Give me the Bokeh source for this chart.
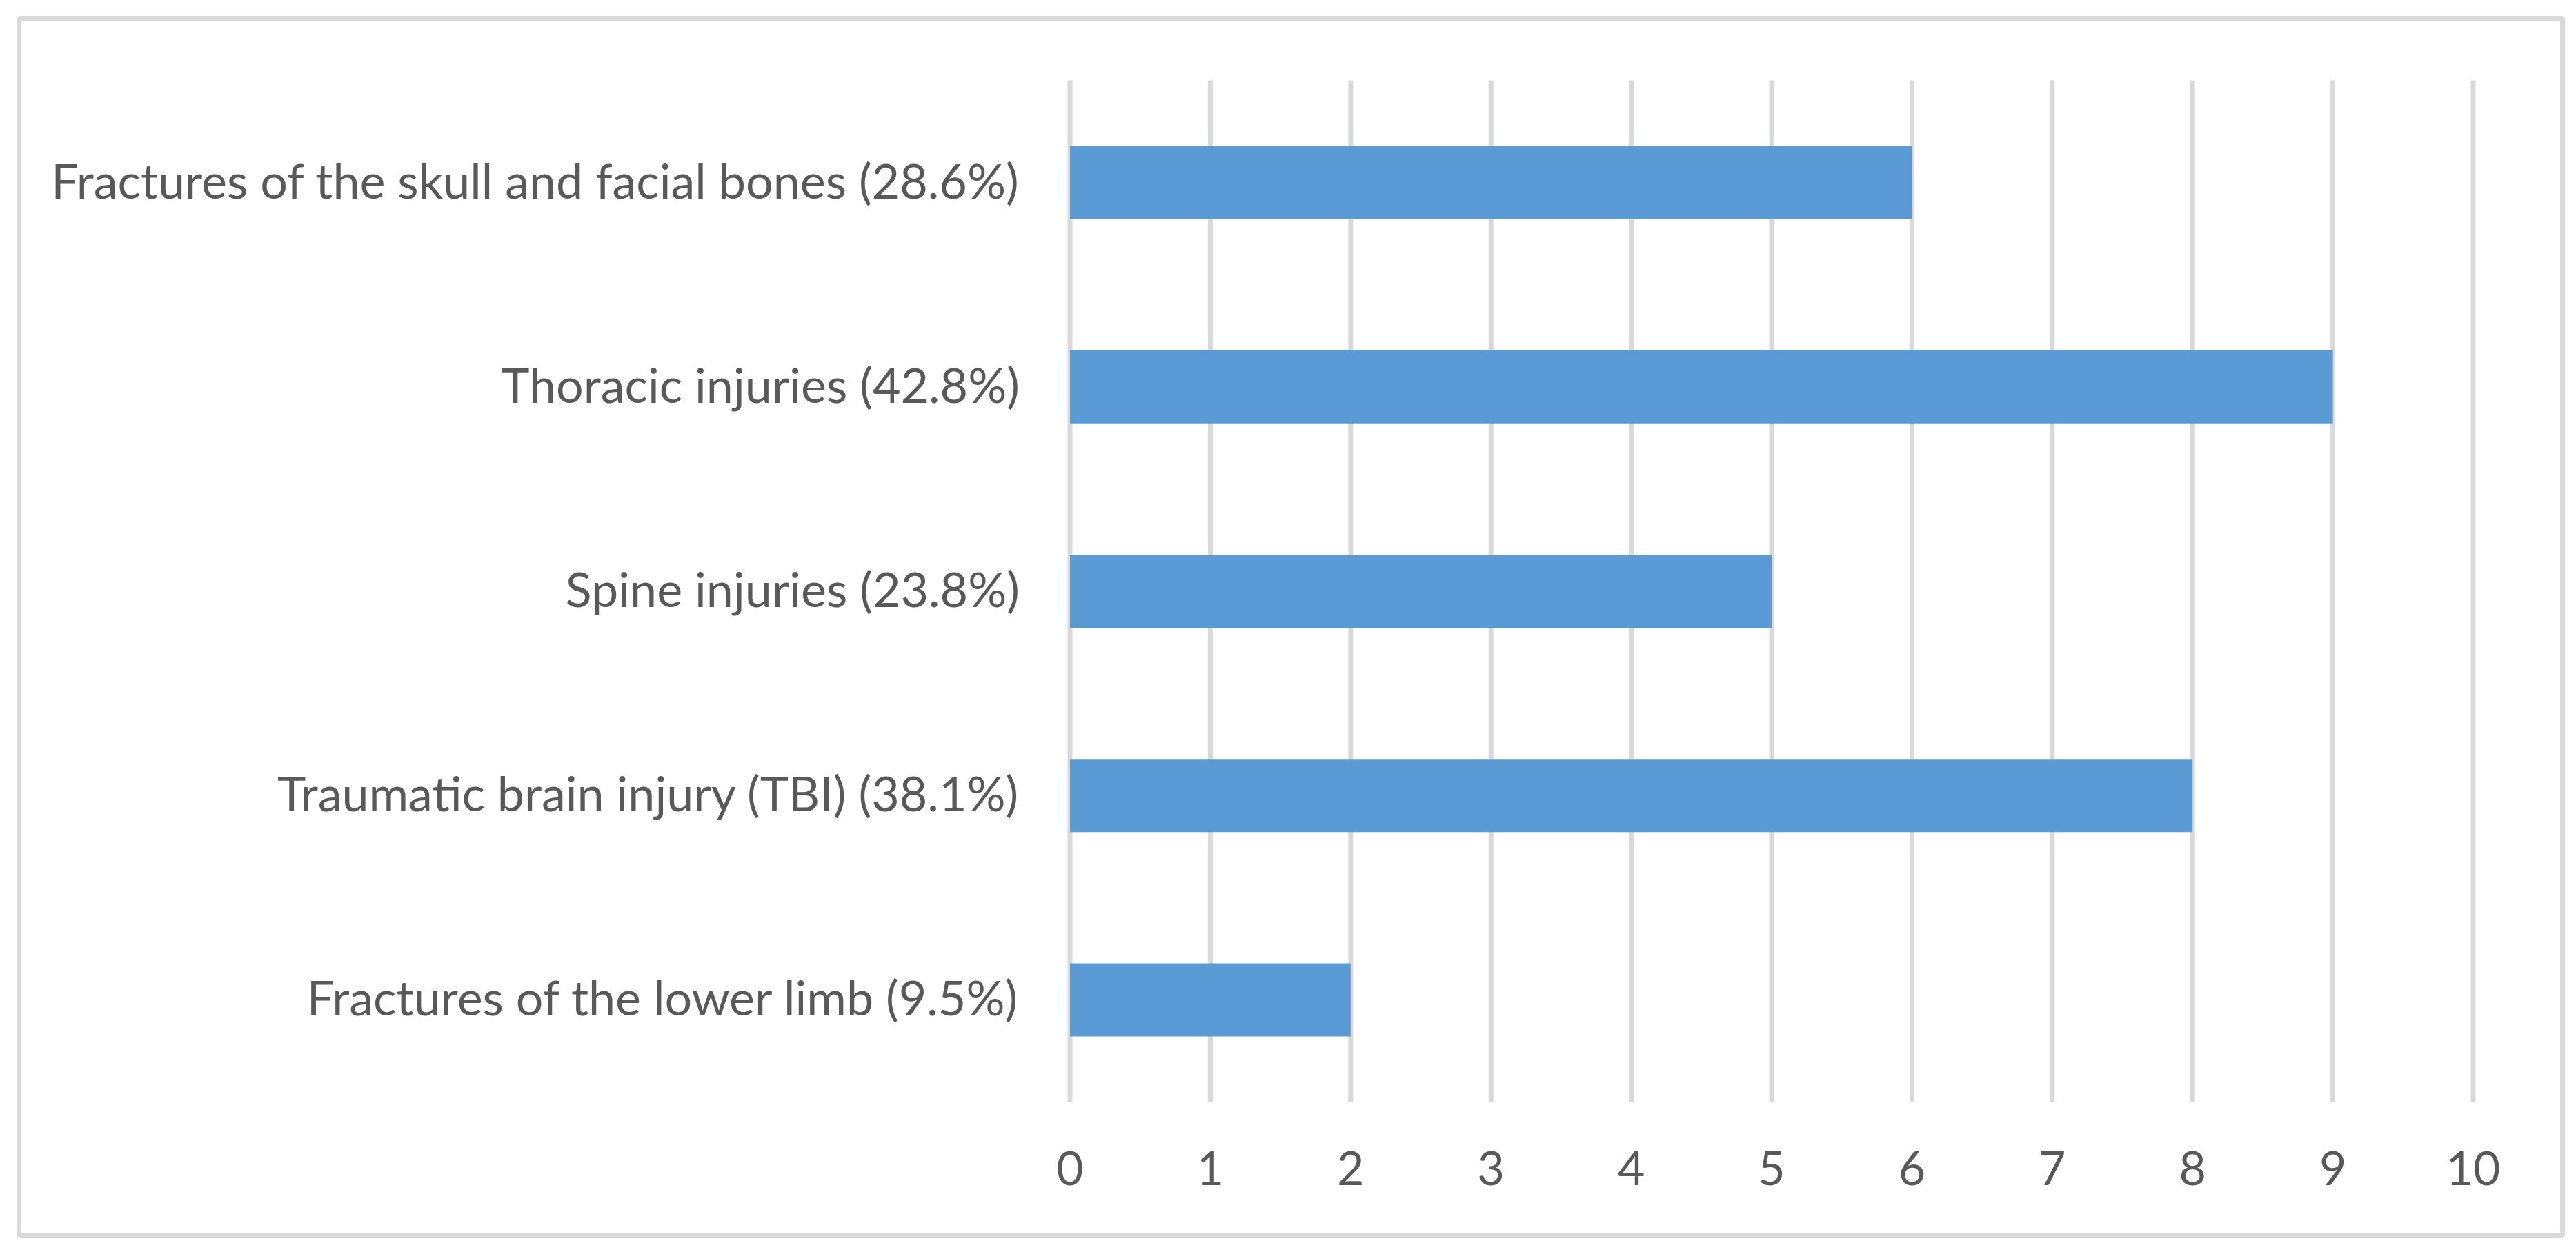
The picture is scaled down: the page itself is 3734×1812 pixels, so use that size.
from bokeh.plotting import figure
from bokeh.models import Range1d
from bokeh.core.properties import value
from bokeh.embed import file_html
from bokeh.resources import INLINE

categories = [
    "Fractures of the skull and facial bones (28.6%)",
    "Thoracic injuries (42.8%)",
    "Spine injuries (23.8%)",
    "Traumatic brain injury (TBI) (38.1%)",
    "Fractures of the lower limb (9.5%)",
]
counts = [6, 9, 5, 8, 2]
x_ticks = [0, 1, 2, 3, 4, 5, 6, 7, 8, 9, 10]

TEXT = "#595959"
GRID = "#D9D9D9"
BAR = "#5B9BD5"
FONT = "Lato"

# ---- layout in page pixels ----
W, H = 3730, 1808
# frame = outer chart border (line centres)
FL, FT, FR, FB = 27, 26, 3714, 1790
# plot area (value axis 0..10, category bands)
PL, PR = 1550.5, 3584.5
PT, PB = 116, 1597

XMIN, XMAX = x_ticks[0], x_ticks[-1]
NCAT = len(categories)
px_x = (PR - PL) / (XMAX - XMIN)
px_y = (PB - PT) / NCAT

x_range = Range1d(XMIN - (PL - FL) / px_x, XMAX + (FR - PR) / px_x)
y_range = Range1d(-(FB - PB) / px_y, NCAT + (PT - FT) / px_y)

p = figure(
    width=W, height=H,
    x_range=x_range, y_range=y_range,
    x_axis_location=None, y_axis_location=None,
    output_backend="svg", toolbar_location=None,
    min_border_left=FL, min_border_right=W - FR,
    min_border_top=FT, min_border_bottom=H - FB,
)
p.grid.visible = False
p.background_fill_color = "white"
p.border_fill_color = "white"
p.outline_line_color = GRID
p.outline_line_width = 7

# category positions: first category at top
ypos = [NCAT - 0.5 - i for i in range(NCAT)]

# vertical gridlines
p.segment(x0=x_ticks, y0=[0] * len(x_ticks), x1=x_ticks, y1=[NCAT] * len(x_ticks),
          line_color=GRID, line_width=7)

# bars
p.hbar(y=ypos, right=counts, left=0, height=0.358,
       fill_color=BAR, line_color=None)

# value-axis tick labels
p.text(x=x_ticks, y=[0] * len(x_ticks), text=[str(t) for t in x_ticks],
       y_offset=96, text_align="center", text_baseline="alphabetic",
       text_font=value(FONT), text_font_size="68px", text_color=TEXT)

# category labels
p.text(x=[XMIN] * NCAT, y=ypos, text=categories,
       x_offset=-73, y_offset=-4, text_align="right", text_baseline="alphabetic",
       text_font=value(FONT), text_font_size="70px", text_color=TEXT)

open("out.html", "w").write(file_html(p, INLINE))
